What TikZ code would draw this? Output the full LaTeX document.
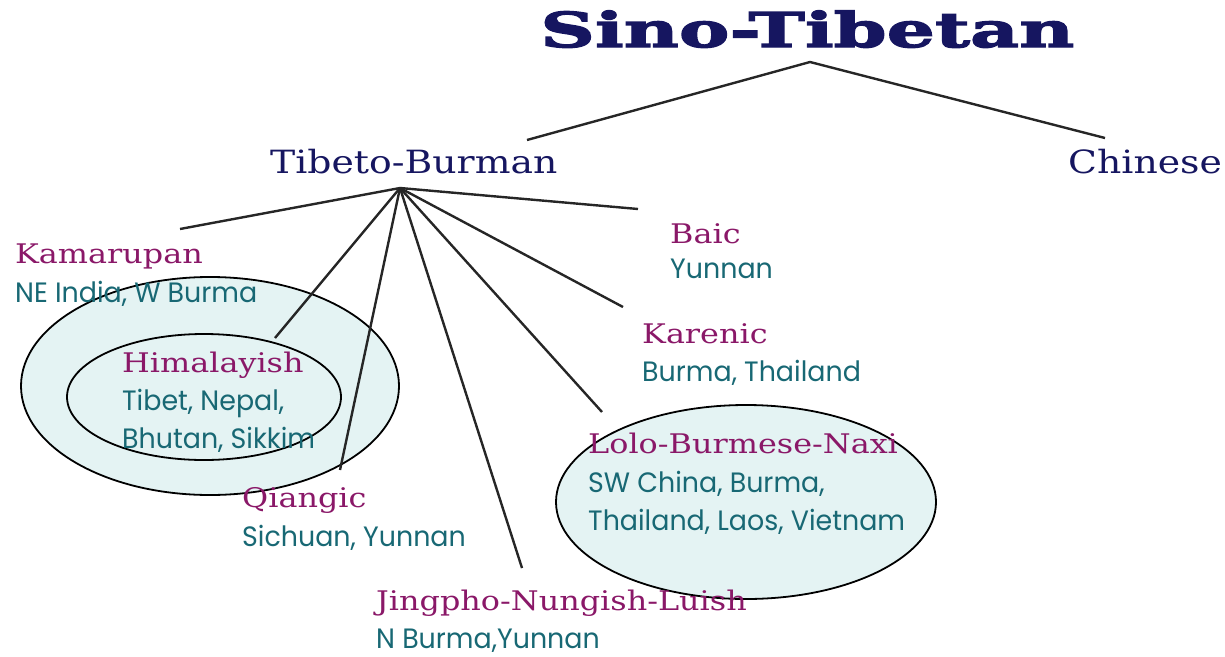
\documentclass[tikz,border=0pt]{standalone}
\usepackage{fontspec}
\setmainfont{DejaVu Serif}
\newfontfamily\titlefont[FakeStretch=1.58,FakeBold=3]{DejaVu Serif}
\newfontfamily\namefont[FakeStretch=1.18]{DejaVu Serif}
\newfontfamily\placefont[FakeStretch=0.96]{Poppins}
\definecolor{navy}{RGB}{22,22,96}
\definecolor{plum}{RGB}{138,24,104}
\definecolor{tealtext}{RGB}{24,104,116}
\definecolor{paleteal}{RGB}{228,243,243}

\begin{document}
\begin{tikzpicture}[x=1pt,y=-1pt]
	\tikzset{branch/.style={inner sep=0,anchor=base west,text=navy,font=\namefont\fontsize{32}{36}\selectfont}}
	\tikzset{group/.style={inner sep=0,anchor=base west,text=plum,font=\namefont\fontsize{27}{30}\selectfont}}
	\tikzset{place/.style={inner sep=0,anchor=base west,text=tealtext,font=\placefont\fontsize{28}{30}\selectfont}}
	\tikzset{link/.style={draw=black!85,line width=2.4pt}}
	\tikzset{area/.style={draw=black,line width=1.8pt,fill=paleteal}}
	\useasboundingbox (0,0) rectangle (1225,656);

	% areas
	\draw[area] (210,386) ellipse [x radius=189pt, y radius=109pt];
	\draw[area] (204,397) ellipse [x radius=137pt, y radius=63pt];
	\draw[area] (746,502) ellipse [x radius=190pt, y radius=97pt];

	% vertices
	\coordinate (top) at (810,62);
	\coordinate (hub) at (400,188);
	\coordinate (tbend) at (527,140);
	\coordinate (chend) at (1105,138);
	\coordinate (kamend) at (180,229);
	\coordinate (himend) at (275,338);
	\coordinate (qiaend) at (340,470);
	\coordinate (jinend) at (522,568);
	\coordinate (lolend) at (602,412);
	\coordinate (karend) at (623,307);
	\coordinate (baiend) at (638,209);

	% edges
	\draw[link] (tbend) -- (top) -- (chend);
	\draw[link] (hub) -- (kamend);
	\draw[link] (hub) -- (himend);
	\draw[link] (hub) -- (qiaend);
	\draw[link] (hub) -- (jinend);
	\draw[link] (hub) -- (lolend);
	\draw[link] (hub) -- (karend);
	\draw[link] (hub) -- (baiend);

	% labels
	\node[inner sep=0,anchor=base west,text=navy,font=\titlefont\bfseries\fontsize{48}{52}\selectfont] (sino) at (540,47) {Sino-Tibetan};
	\node[branch] (tibbur) at (270,173) {Tibeto-Burman};
	\node[branch] (chinese) at (1068,173) {Chinese};
	\node[group] (kam) at (15,263) {Kamarupan};
	\node[place] (kamplace) at (15,302) {NE India, W Burma};
	\node[group] (him) at (122,372) {Himalayish};
	\node[place] (himplacea) at (122,410) {Tibet, Nepal,};
	\node[place] (himplaceb) at (122,448) {Bhutan, Sikkim};
	\node[group] (qia) at (242,507) {Qiangic};
	\node[place] (qiaplace) at (242,546) {Sichuan, Yunnan};
	\node[group] (jin) at (376,610) {Jingpho-Nungish-Luish};
	\node[place] (jinplace) at (376,648) {N Burma,Yunnan};
	\node[group] (bai) at (670,243) {Baic};
	\node[place] (baiplace) at (670,278) {Yunnan};
	\node[group] (kar) at (642,343) {Karenic};
	\node[place] (karplace) at (642,381) {Burma, Thailand};
	\node[group] (lol) at (588,453) {Lolo-Burmese-Naxi};
	\node[place] (lolplacea) at (588,492) {SW China, Burma,};
	\node[place] (lolplaceb) at (588,530) {Thailand, Laos, Vietnam};
\end{tikzpicture}
\end{document}
